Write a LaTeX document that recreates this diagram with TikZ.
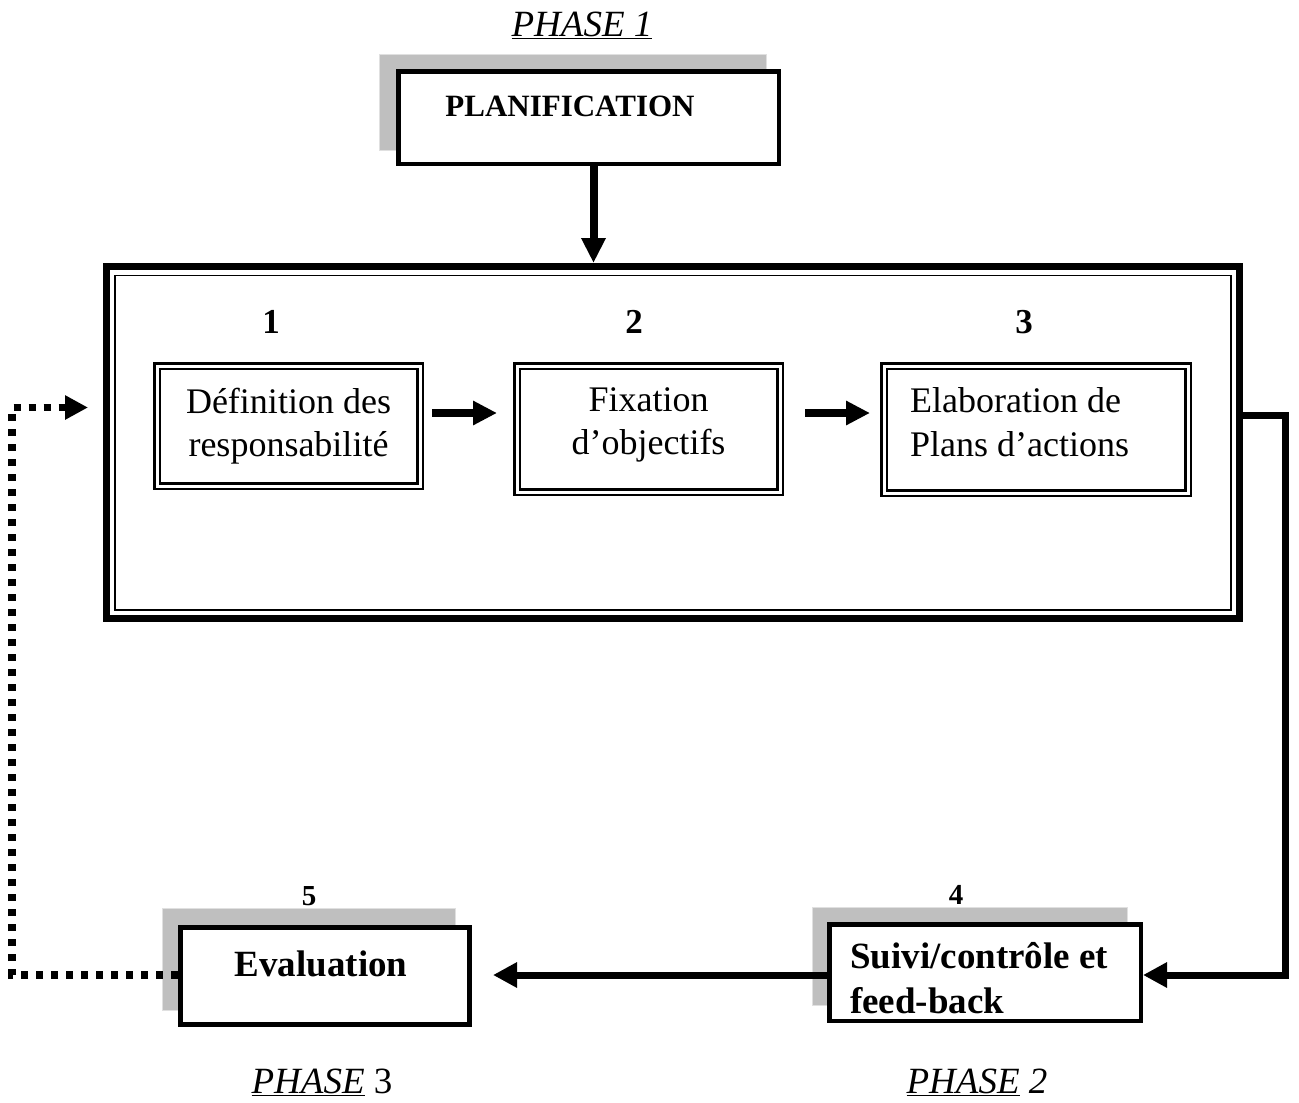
\documentclass[tikz,border=0pt]{standalone}
\usepackage{fontspec}
\setmainfont{Liberation Serif}
\usetikzlibrary{arrows.meta,calc}
\newcommand{\phul}[1]{\underline{#1}}
\begin{document}
\begin{tikzpicture}[x=1pt,y=-1pt,
  shadowbox/.style={fill=black!25, draw=black!12, line width=1pt, inner sep=0pt},
  mainbox/.style={draw=black, fill=white, line width=4.5pt, inner sep=0pt},
  dblbox/.style={draw=black, double=white, line width=2.5pt, double distance=3pt, inner sep=0pt},
  regtxt/.style={font=\fontsize{36}{43.5}\selectfont},
  boldtxt/.style={font=\fontsize{37}{45}\selectfont\bfseries},
  numtxt/.style={font=\fontsize{35}{40}\selectfont\bfseries},
  smallnum/.style={font=\fontsize{29}{34}\selectfont\bfseries},
  phasetxt/.style={font=\fontsize{37}{42}\selectfont},
  arr/.style={line width=8pt, -{Triangle[length=24pt,width=23pt]}},
  connector/.style={line width=7pt, line join=miter},
  dotline/.style={line width=7.5pt, dash pattern=on 7.5pt off 7.5pt},
  ]
\useasboundingbox (0,0) rectangle (1299,1103);

% Phase 1 + planification
\node[phasetxt] (ph1) at (582,25) {\phul{\textit{PHASE 1}}};
\node[shadowbox, minimum width=387pt, minimum height=96pt] (pshadow) at (572.5,102) {};
\node[mainbox, minimum width=380.5pt, minimum height=92.5pt] (planif) at (588.5,117.5) {};
\node[font=\fontsize{31}{36}\selectfont\bfseries] (planift) at (570,106) {PLANIFICATION};

% big frame
\node[draw, line width=7pt, minimum width=1133pt, minimum height=352pt, inner sep=0pt] (frame) at (673,442.5) {};
\draw[line width=1.8pt] ($(frame.north west)+(12,12.5)$) rectangle ($(frame.south east)+(-12,-12)$);

% arrow down
\coordinate (dx) at (593.5,0);
\draw[arr, -{Triangle[length=25pt,width=23pt]}] (planif.south -| dx) -- (frame.north -| dx);

% numbers
\node[numtxt] (n1) at (271,322) {1};
\node[numtxt] (n2) at (634,322) {2};
\node[numtxt] (n3) at (1024,322) {3};

% inner boxes
\node[dblbox, minimum width=263pt, minimum height=120pt] (b1) at (288.5,426) {};
\node[dblbox, minimum width=263pt, minimum height=126pt] (b2) at (648.5,429) {};
\node[dblbox, minimum width=304pt, minimum height=127pt] (b3) at (1036,429.5) {};
\node[regtxt, align=center] (b1t) at (288.5,426) {Définition des\\responsabilité};
\node[regtxt, align=center] (b2t) at (648.5,425) {Fixation\\d’objectifs};
\node[regtxt, align=left, anchor=west, inner sep=0pt] (b3t) at (910,422) {Elaboration de\\Plans d’actions};

\coordinate (ay) at (0,413);
\draw[arr, shorten <=10.75pt, shorten >=18.75pt] (b1.east |- ay) -- (b2.west |- ay);
\draw[arr, shorten <=23.75pt, shorten >=12.75pt] (b2.east |- ay) -- (b3.west |- ay);

% Suivi box
\node[shadowbox, minimum width=315pt, minimum height=98pt] (sshadow) at (969.5,956) {};
\node[mainbox, minimum width=311.5pt, minimum height=96.5pt] (suivi) at (985,972.5) {};
\node[boldtxt, align=left, anchor=north west, inner sep=0pt] (suivit) at (850,942) {Suivi/contrôle et\\feed-back};
\node[smallnum] (n4) at (956,895) {4};

% Evaluation box
\node[shadowbox, minimum width=293pt, minimum height=102pt] (eshadow) at (308.5,959) {};
\node[mainbox, line width=5pt, minimum width=289pt, minimum height=97pt] (eval) at (325,976) {};
\node[boldtxt] (evalt) at (321,964) {Evaluation};
\node[smallnum] (n5) at (309,896) {5};

% right connector
\coordinate (ry) at (0,415);
\coordinate (rx) at (1285,0);
\coordinate (sy) at (0,975);
\draw[connector, -{Triangle[length=24pt,width=24pt]}] (frame.east |- ry) -- (rx |- ry) -- (rx |- sy) -- (suivi.east |- sy);

% Suivi -> Evaluation
\draw[arr, line width=7pt, -{Triangle[length=24pt,width=24pt]}, shorten >=21pt] (suivi.west |- sy) -- (eval.east |- sy);

% dotted feedback
\coordinate (dl) at (12,0);
\coordinate (dy) at (0,407.5);
\draw[dotline, -{Triangle[length=23pt,width=23pt]}, shorten >=15pt] (eval.west |- sy) -- (dl |- sy) -- (dl |- dy) -- (frame.west |- dy);

% phase labels
\node[phasetxt] (ph3) at (322,1082) {\phul{\textit{PHASE}} 3};
\node[phasetxt] (ph2) at (977,1082) {\phul{\textit{PHASE}} \textit{2}};
\end{tikzpicture}
\end{document}
